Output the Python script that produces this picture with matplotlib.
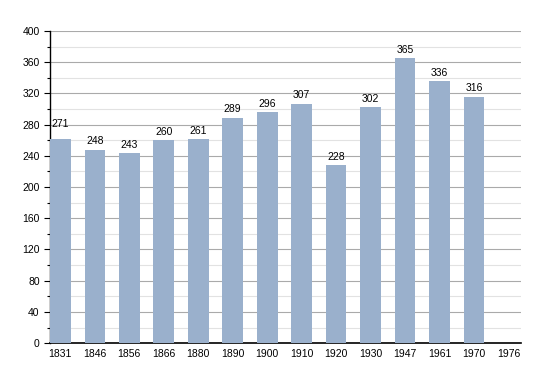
import numpy as np
import matplotlib.pyplot as plt
from matplotlib.ticker import MultipleLocator

# Data
years = ['1831', '1846', '1856', '1866', '1880', '1890', '1900',
         '1910', '1920', '1930', '1947', '1961', '1970', '1976']
heights = [262, 248, 243, 260, 261, 289, 296, 307, 228, 302, 365, 336, 316, 0]
labels = ['271', '248', '243', '260', '261', '289', '296',
          '307', '228', '302', '365', '336', '316', '']
label_pos = [271, 248, 243, 260, 261, 289, 296, 307, 228, 302, 365, 336, 316, 0]

plt.rcParams['font.family'] = ['Liberation Sans', 'DejaVu Sans']

fig = plt.figure(figsize=(5.5, 3.73), dpi=100)
ax = fig.add_axes([0.091, 0.080, 0.856, 0.837])

x = np.arange(len(years))
ax.bar(x, heights, width=0.6, color='#9ab0cc', zorder=3)

for xi, lab, yp in zip(x, labels, label_pos):
    if lab:
        ax.text(xi, yp + 4, lab, ha='center', va='bottom', fontsize=7.5, zorder=4)

ax.set_xlim(-0.3, 13.36)
ax.set_ylim(0, 400)
ax.set_xticks(x)
ax.set_xticklabels(years, fontsize=7.5)
ax.tick_params(axis='x', length=0, pad=4)

ax.yaxis.set_major_locator(MultipleLocator(40))
ax.yaxis.set_minor_locator(MultipleLocator(20))
ax.tick_params(axis='y', which='major', labelsize=7.5, length=4, width=0.8, direction='out')
ax.tick_params(axis='y', which='minor', length=2.5, width=0.8, direction='out')

ax.grid(axis='y', which='major', color='#aaaaaa', linewidth=0.8, zorder=0)
ax.grid(axis='y', which='minor', color='#e2e2e2', linewidth=0.8, zorder=0)

for s in ['top', 'right']:
    ax.spines[s].set_visible(False)
ax.spines['left'].set_linewidth(1.0)
ax.spines['bottom'].set_linewidth(1.2)

plt.savefig('out.png', dpi=100)
